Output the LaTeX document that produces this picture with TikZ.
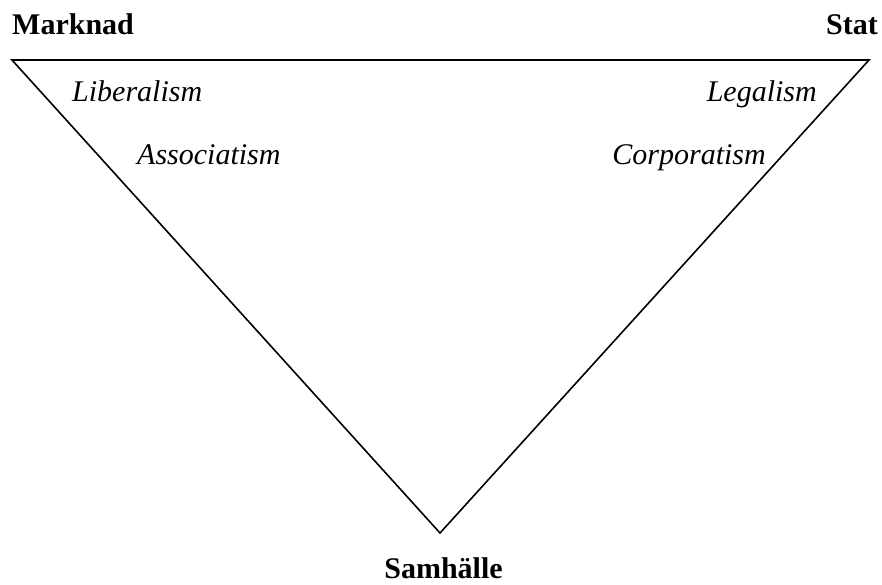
\documentclass[tikz,border=0pt]{standalone}
\usepackage{fontspec}
\setmainfont{Liberation Serif}
\begin{document}
\begin{tikzpicture}[x=1pt,y=-1pt,
  corner/.style={font=\fontsize{30}{36}\selectfont\bfseries, inner sep=0pt},
  ism/.style={font=\fontsize{30}{36}\selectfont\itshape, inner sep=0pt},
  edge/.style={line width=1.6pt, line join=miter}]
\useasboundingbox (0,0) rectangle (882,585);
\coordinate (M) at (12,60);
\coordinate (S) at (869,60);
\coordinate (H) at (440,533);
\draw[edge] (M) -- (S) -- (H) -- cycle;
\node[corner, anchor=base west] (marknad) at (12,35) {Marknad};
\node[corner, anchor=base east] (stat) at (878,35) {Stat};
\node[corner, anchor=base] (samhalle) at (443.5,578) {Samhälle};
\node[ism, anchor=base west] (lib) at (72,102) {Liberalism};
\node[ism, anchor=base east] (leg) at (817,102) {Legalism};
\node[ism, anchor=base west] (ass) at (137,165) {Associatism};
\node[ism, anchor=base east] (cor) at (766,165) {Corporatism};
\end{tikzpicture}
\end{document}
